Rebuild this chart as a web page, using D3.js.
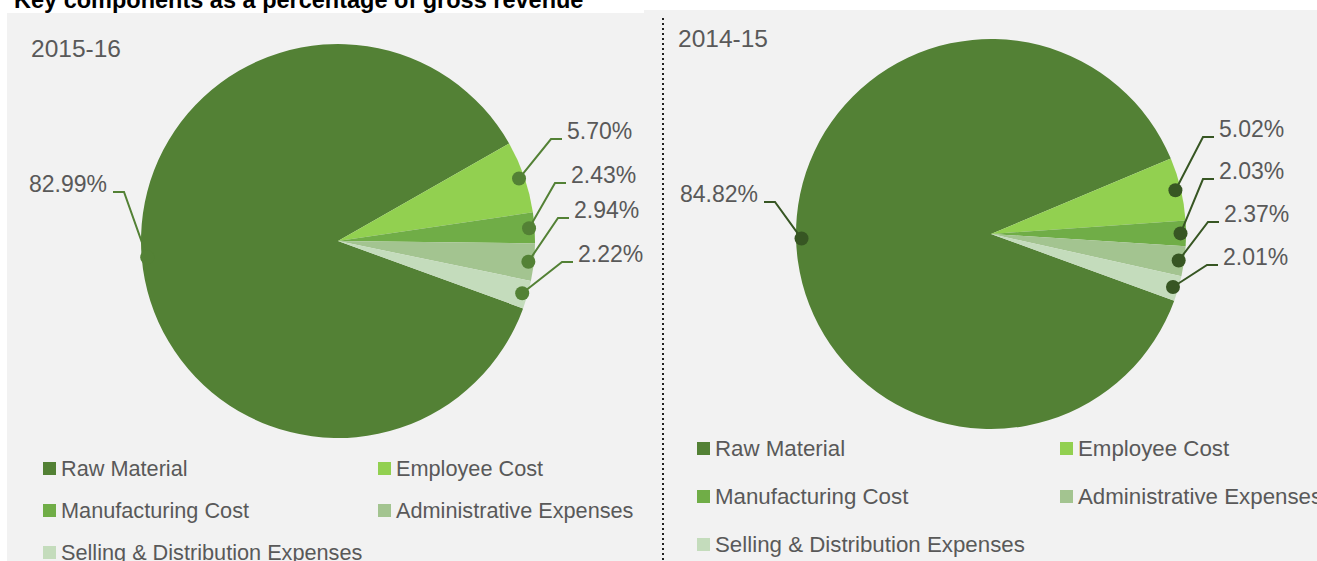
<!DOCTYPE html>
<html lang="en">
<head>
<meta charset="UTF-8">
<title>Key components as a percentage of gross revenue</title>
<script src="https://d3js.org/d3.v7.min.js"></script>
<style>
  body { margin: 0; background: #fff; }
  svg text { font-family: "Liberation Sans", Arial, sans-serif; }
  .title { font-weight: bold; font-size: 23.5px; fill: #000; }
  .year { font-size: 24.5px; fill: #595959; }
  .pct { font-size: 23px; fill: #595959; }
  .legend text { fill: #595959; }
</style>
</head>
<body>
<script>
  // data
  const title = "Key components as a percentage of gross revenue";
  const categories = ["Raw Material", "Employee Cost", "Manufacturing Cost", "Administrative Expenses", "Selling & Distribution Expenses"];
  const years = ["2015-16", "2014-15"];
  const values1516 = [82.99, 5.70, 2.43, 2.94, 2.22];
  const values1415 = [84.82, 5.02, 2.03, 2.37, 2.01];
  const colors = ["#538135", "#92d050", "#70ad47", "#a3c490", "#c4dcbc"];

  const width = 1317, height = 561;

  // layout per panel (label knee offsets are relative to pie centre)
  const panels = [
    {
      year: years[0], values: values1516,
      bg: [7, 13, 640, 548], yearPos: [31, 57],
      cx: 338, cy: 241, r: 197,
      marker: "#538135",
      knees: [[-214, -49], [213, -102], [217, -58], [220, -23], [224, 21]],
      legend: { cols: [43, 378], rows: [476, 518, 560], font: 21.7 }
    },
    {
      year: years[1], values: values1415,
      bg: [644, 10, 673, 551], yearPos: [678, 47],
      cx: 991, cy: 234, r: 195,
      marker: "#375623",
      knees: [[-216, -32], [212, -97], [212, -55], [217, -12], [216, 31]],
      legend: { cols: [697, 1060], rows: [456, 504, 552], font: 22.3 }
    }
  ];

  const svg = d3.select("body").append("svg")
    .attr("width", width)
    .attr("height", height);

  const start = 110 * Math.PI / 180;
  const pie = d3.pie().sort(null).value(d => d)
    .startAngle(start).endAngle(start + 2 * Math.PI);

  panels.forEach(p => {
    svg.append("rect")
      .attr("x", p.bg[0]).attr("y", p.bg[1])
      .attr("width", p.bg[2]).attr("height", p.bg[3])
      .attr("fill", "#f2f2f2");
  });

  // dotted separator
  svg.append("line")
    .attr("x1", 663).attr("x2", 663)
    .attr("y1", 18).attr("y2", height)
    .attr("stroke", "#222")
    .attr("stroke-width", 2)
    .attr("stroke-dasharray", "2,3");

  svg.append("text")
    .attr("class", "title")
    .attr("x", 14).attr("y", 8)
    .text(title);

  panels.forEach(p => {
    svg.append("text")
      .attr("class", "year")
      .attr("x", p.yearPos[0]).attr("y", p.yearPos[1])
      .text(p.year);

    const g = svg.append("g").attr("transform", `translate(${p.cx},${p.cy})`);
    const arcs = pie(p.values);
    const arc = d3.arc().innerRadius(0).outerRadius(p.r);
    const dotArc = d3.arc().innerRadius(p.r * 0.972).outerRadius(p.r * 0.972);

    g.selectAll("path.slice")
      .data(arcs)
      .join("path")
      .attr("class", "slice")
      .attr("d", arc)
      .attr("fill", (d, i) => colors[i]);

    // leader lines
    g.selectAll("polyline.leader")
      .data(arcs)
      .join("polyline")
      .attr("class", "leader")
      .attr("fill", "none")
      .attr("stroke", p.marker)
      .attr("stroke-width", 2)
      .attr("points", (d, i) => {
        const c = dotArc.centroid(d);
        const k = p.knees[i];
        const dir = k[0] < 0 ? -1 : 1;
        return [c, k, [k[0] + dir * 11, k[1]]].map(q => q.join(",")).join(" ");
      });

    g.selectAll("circle.dot")
      .data(arcs)
      .join("circle")
      .attr("class", "dot")
      .attr("r", 7)
      .attr("fill", p.marker)
      .attr("cx", d => dotArc.centroid(d)[0])
      .attr("cy", d => dotArc.centroid(d)[1]);

    g.selectAll("text.pct")
      .data(arcs)
      .join("text")
      .attr("class", "pct")
      .attr("x", (d, i) => p.knees[i][0] + (p.knees[i][0] < 0 ? -17 : 16))
      .attr("y", (d, i) => p.knees[i][1])
      .attr("text-anchor", (d, i) => p.knees[i][0] < 0 ? "end" : "start")
      .text(d => d.data.toFixed(2) + "%");

    // legend
    const lg = svg.append("g").attr("class", "legend");
    const items = lg.selectAll("g")
      .data(categories)
      .join("g")
      .attr("transform", (d, i) => `translate(${p.legend.cols[i % 2]},${p.legend.rows[Math.floor(i / 2)]})`);
    items.append("rect")
      .attr("x", 0).attr("y", -14)
      .attr("width", 13).attr("height", 13)
      .attr("fill", (d, i) => colors[i]);
    items.append("text")
      .attr("x", 18).attr("y", 0)
      .attr("font-size", p.legend.font)
      .text(d => d);
  });
</script>
</body>
</html>
